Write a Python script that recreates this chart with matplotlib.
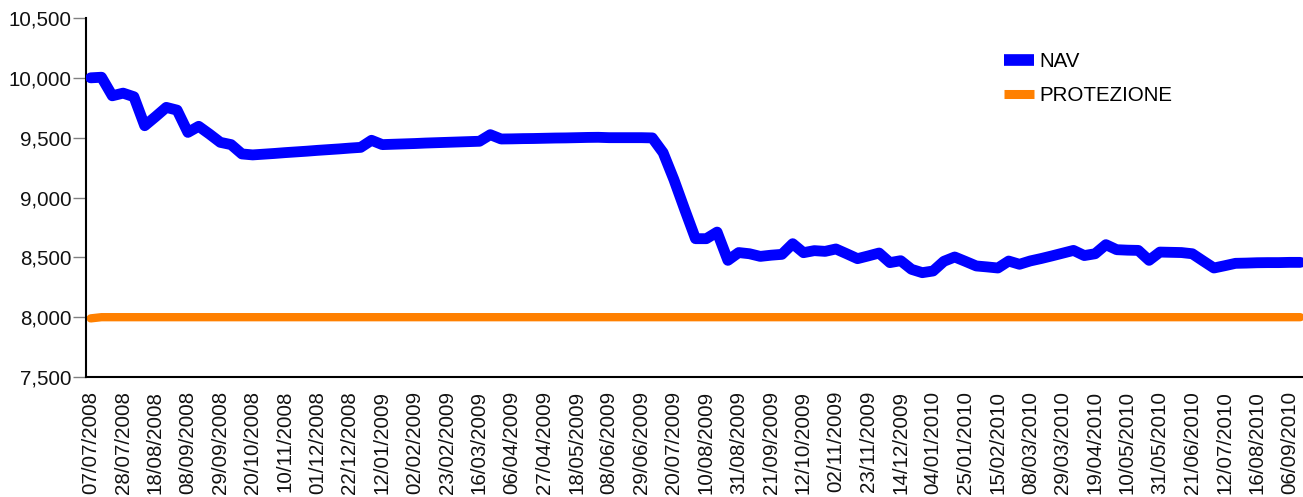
import matplotlib
matplotlib.use("Agg")
import matplotlib.pyplot as plt
from matplotlib.ticker import FuncFormatter

plt.rcParams['font.family'] = ['Liberation Sans', 'DejaVu Sans']

# weekly values, one per point on the category axis
nav = [
    10000, 10005, 9850, 9872, 9842, 9600, 9675, 9753, 9730, 9544,
    9595, 9530, 9461, 9442, 9364, 9356, 9362, 9368, 9375, 9381,
    9387, 9394, 9400, 9406, 9413, 9419, 9478, 9442, 9445, 9448,
    9451, 9455, 9458, 9461, 9464, 9467, 9470, 9525, 9489, 9490,
    9492, 9493, 9495, 9497, 9498, 9500, 9502, 9503, 9500, 9500,
    9500, 9500, 9498, 9375, 9150, 8900, 8656, 8656, 8711, 8475,
    8540, 8530, 8508, 8518, 8525, 8614, 8539, 8556, 8550, 8570,
    8530, 8489, 8512, 8536, 8456, 8472, 8400, 8372, 8386, 8467,
    8503, 8466, 8428, 8420, 8411, 8469, 8442, 8470, 8490, 8512,
    8535, 8558, 8515, 8530, 8606, 8564, 8560, 8558, 8475, 8544,
    8542, 8540, 8530, 8470, 8411, 8430, 8450, 8452, 8455, 8456,
    8456, 8458, 8458,
]
protezione = [7990] + [8000] * 112

tick_labels = [
    "07/07/2008", "28/07/2008", "18/08/2008", "08/09/2008", "29/09/2008",
    "20/10/2008", "10/11/2008", "01/12/2008", "22/12/2008", "12/01/2009",
    "02/02/2009", "23/02/2009", "16/03/2009", "06/04/2009", "27/04/2009",
    "18/05/2009", "08/06/2009", "29/06/2009", "20/07/2009", "10/08/2009",
    "31/08/2009", "21/09/2009", "12/10/2009", "02/11/2009", "23/11/2009",
    "14/12/2009", "04/01/2010", "25/01/2010", "15/02/2010", "08/03/2010",
    "29/03/2010", "19/04/2010", "10/05/2010", "31/05/2010", "21/06/2010",
    "12/07/2010", "16/08/2010", "06/09/2010",
]

x = list(range(len(nav)))

fig = plt.figure(figsize=(13.03, 4.97), dpi=100)
ax = fig.add_axes([0.066, 0.2414, 0.934, 0.7224])

ax.plot(x, nav, color="#0000FF", lw=7.8, solid_capstyle="round",
        solid_joinstyle="round", label="NAV", zorder=3)
ax.plot(x, protezione, color="#FF8000", lw=6, solid_capstyle="round",
        solid_joinstyle="round", label="PROTEZIONE", zorder=2)

ax.set_xlim(-0.435, 112.25)
ax.set_ylim(7500, 10500)
ax.set_yticks([7500, 8000, 8500, 9000, 9500, 10000, 10500])
ax.yaxis.set_major_formatter(FuncFormatter(lambda v, p: f"{v:,.0f}"))

ax.set_xticks(x[::3])
ax.set_xticklabels(tick_labels, rotation=90, ha="center", va="top")

for side in ("top", "right"):
    ax.spines[side].set_visible(False)
for side in ("left", "bottom"):
    ax.spines[side].set_color("black")
    ax.spines[side].set_linewidth(1.5)

ax.tick_params(axis="y", length=9.5, width=1, color="#808080", pad=1,
               labelsize=14.8, labelcolor="#111111")
ax.tick_params(axis="x", length=0, pad=10, labelsize=14.8,
               labelcolor="#111111")

leg = ax.legend(loc="upper left", bbox_to_anchor=(0.7705, 0.8954),
                bbox_transform=fig.transFigure, frameon=False,
                borderpad=0, borderaxespad=0, handlelength=1.46,
                handletextpad=0.25, labelspacing=0.75, fontsize=14.8)
for line, w in zip(leg.get_lines(), (8.4, 6.5)):
    line.set_solid_capstyle("butt")
    line.set_linewidth(w)

fig.savefig("out.png", dpi=100)
